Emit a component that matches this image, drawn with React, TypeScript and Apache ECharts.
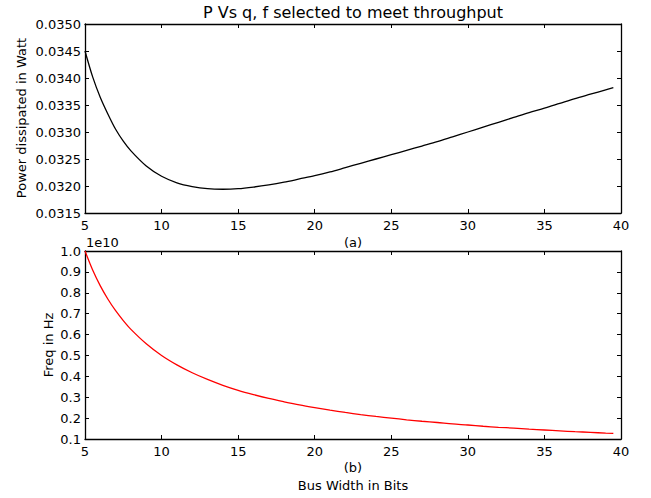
import React, { useEffect, useRef } from "react";
import * as echarts from "echarts";

// Bus width q (bits)
const qValues: number[] = [
  5, 5.5, 6, 6.5, 7, 7.5, 8, 9, 10, 11, 12, 13, 14, 15, 16, 17, 18, 19, 20,
  21, 22, 23, 24, 25, 26, 27, 28, 29, 30, 31, 32, 33, 34, 35, 36, 37, 38, 39, 39.5,
];

// Power dissipated in Watt
const powerValues: number[] = [
  0.0345, 0.03402, 0.03364, 0.03333, 0.03305, 0.03283, 0.03265, 0.03237, 0.03218,
  0.03206, 0.03199, 0.03195, 0.03194, 0.03195, 0.03198, 0.03202, 0.03207, 0.03213,
  0.03219, 0.03226, 0.03234, 0.03242, 0.0325, 0.03258, 0.03266, 0.03274, 0.03282,
  0.03291, 0.033, 0.03309, 0.03318, 0.03327, 0.03336, 0.03344, 0.03353, 0.03362,
  0.0337, 0.03378, 0.03382,
];

// Frequency in Hz
const freqValues: number[] = [
  1.0e10, 0.909e10, 0.833e10, 0.769e10, 0.714e10, 0.667e10, 0.625e10, 0.556e10,
  0.5e10, 0.455e10, 0.417e10, 0.385e10, 0.357e10, 0.333e10, 0.3125e10, 0.294e10,
  0.278e10, 0.263e10, 0.25e10, 0.238e10, 0.227e10, 0.217e10, 0.208e10, 0.2e10,
  0.192e10, 0.185e10, 0.179e10, 0.172e10, 0.167e10, 0.161e10, 0.156e10, 0.152e10,
  0.147e10, 0.143e10, 0.139e10, 0.135e10, 0.132e10, 0.128e10, 0.127e10,
];

const titleText = "P Vs q, f selected to meet throughput";
const topYLabel = "Power dissipated in Watt";
const bottomYLabel = "Freq in Hz";
const topXLabel = "(a)";
const bottomXLabel1 = "(b)";
const bottomXLabel2 = "Bus Width in Bits";
const offsetText = "1e10";

const FONT = "DejaVu Sans";

export default function App() {
  const ref = useRef<HTMLDivElement>(null);

  useEffect(() => {
    if (!ref.current) return;
    const chart = echarts.init(ref.current, null, { renderer: "svg" });

    const axisLine = { show: true, onZero: false, lineStyle: { color: "#000", width: 1.3 } };
    const tick = { show: true, inside: true, length: 4, lineStyle: { color: "#000", width: 1 } };
    const labelBase = { color: "#000", fontSize: 13, fontFamily: FONT };

    const xAxisMain = (gridIndex: number) => ({
      type: "value",
      gridIndex,
      position: "bottom",
      min: 5,
      max: 40,
      interval: 5,
      axisLine,
      axisTick: tick,
      splitLine: { show: false },
      axisLabel: { ...labelBase, margin: 6, showMinLabel: true, showMaxLabel: true },
    });
    const xAxisMirror = (gridIndex: number) => ({
      type: "value",
      gridIndex,
      position: "top",
      min: 5,
      max: 40,
      interval: 5,
      axisLine,
      axisTick: tick,
      splitLine: { show: false },
      axisLabel: { show: false },
    });

    const yTop = {
      min: 0.0315,
      max: 0.035,
      interval: 0.0005,
    };
    const yBot = {
      min: 0.1e10,
      max: 1.0e10,
      interval: 0.1e10,
    };

    const option: any = {
      animation: false,
      backgroundColor: "#fff",
      grid: [
        { left: 85, top: 24, width: 536, height: 189, containLabel: false },
        { left: 85, top: 251, width: 536, height: 188, containLabel: false },
      ],
      xAxis: [xAxisMain(0), xAxisMirror(0), xAxisMain(1), xAxisMirror(1)],
      yAxis: [
        {
          type: "value",
          gridIndex: 0,
          position: "left",
          ...yTop,
          axisLine,
          axisTick: tick,
          splitLine: { show: false },
          axisLabel: {
            ...labelBase,
            margin: 4,
            formatter: (v: number) => v.toFixed(4),
          },
        },
        {
          type: "value",
          gridIndex: 0,
          position: "right",
          ...yTop,
          axisLine,
          axisTick: tick,
          splitLine: { show: false },
          axisLabel: { show: false },
        },
        {
          type: "value",
          gridIndex: 1,
          position: "left",
          ...yBot,
          axisLine,
          axisTick: tick,
          splitLine: { show: false },
          axisLabel: {
            ...labelBase,
            margin: 4,
            formatter: (v: number) => (v / 1e10).toFixed(1),
          },
        },
        {
          type: "value",
          gridIndex: 1,
          position: "right",
          ...yBot,
          axisLine,
          axisTick: tick,
          splitLine: { show: false },
          axisLabel: { show: false },
        },
      ],
      series: [
        {
          type: "line",
          xAxisIndex: 0,
          yAxisIndex: 0,
          data: qValues.map((q, i) => [q, powerValues[i]]),
          showSymbol: false,
          smooth: 0.3,
          lineStyle: { color: "#000", width: 1.3 },
          silent: true,
        },
        {
          type: "line",
          xAxisIndex: 2,
          yAxisIndex: 2,
          data: qValues.map((q, i) => [q, freqValues[i]]),
          showSymbol: false,
          smooth: 0.3,
          lineStyle: { color: "#ff0000", width: 1.3 },
          silent: true,
        },
      ],
      graphic: [
        {
          type: "text",
          x: 353,
          y: 12.5,
          style: { text: titleText, fill: "#000", font: `16px '${FONT}'`, textAlign: "center", textVerticalAlign: "middle" },
        },
        {
          type: "text",
          x: 353,
          y: 242,
          style: { text: topXLabel, fill: "#000", font: `13px '${FONT}'`, textAlign: "center", textVerticalAlign: "middle" },
        },
        {
          type: "text",
          x: 353,
          y: 467.5,
          style: { text: bottomXLabel1, fill: "#000", font: `13px '${FONT}'`, textAlign: "center", textVerticalAlign: "middle" },
        },
        {
          type: "text",
          x: 353,
          y: 485,
          style: { text: bottomXLabel2, fill: "#000", font: `13px '${FONT}'`, textAlign: "center", textVerticalAlign: "middle" },
        },
        {
          type: "text",
          x: 21,
          y: 118,
          rotation: Math.PI / 2,
          style: { text: topYLabel, fill: "#000", font: `13px '${FONT}'`, textAlign: "center", textVerticalAlign: "middle" },
        },
        {
          type: "text",
          x: 48,
          y: 345,
          rotation: Math.PI / 2,
          style: { text: bottomYLabel, fill: "#000", font: `13px '${FONT}'`, textAlign: "center", textVerticalAlign: "middle" },
        },
        {
          type: "text",
          x: 86,
          y: 242,
          style: { text: offsetText, fill: "#000", font: `13px '${FONT}'`, textAlign: "left", textVerticalAlign: "middle" },
        },
      ],
    };

    chart.setOption(option);
    return () => chart.dispose();
  }, []);

  return (
    <div
      ref={ref}
      style={{ position: "fixed", left: 0, top: 0, width: 651, height: 498, background: "#fff" }}
    />
  );
}
